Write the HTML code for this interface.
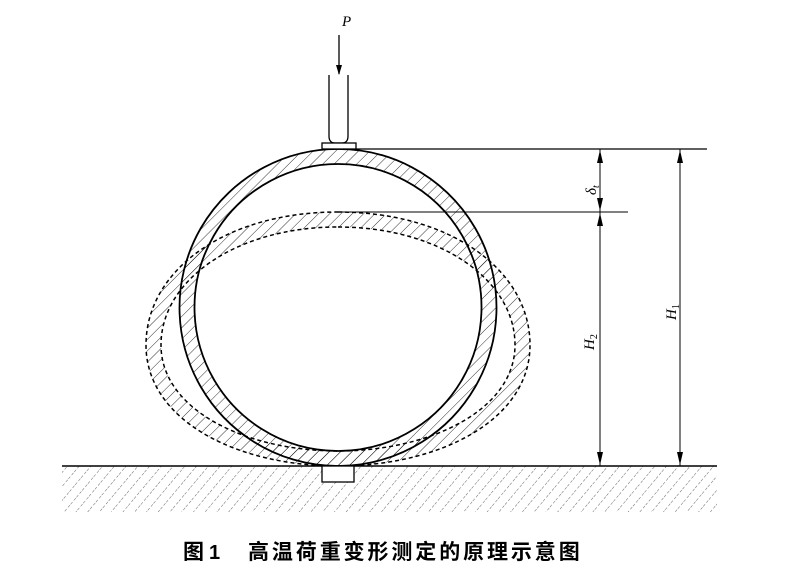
<!DOCTYPE html>
<html><head><meta charset="utf-8"><style>
html,body{margin:0;padding:0;background:#fff;width:799px;height:585px;overflow:hidden}
svg{display:block}
</style></head><body>
<svg width="799" height="585" viewBox="0 0 799 585" xmlns="http://www.w3.org/2000/svg">
<defs>
<pattern id="h" width="8" height="8" patternUnits="userSpaceOnUse" patternTransform="rotate(45)">
<line x1="0" y1="0" x2="0" y2="8" stroke="#000" stroke-width="0.8"/>
</pattern>
<pattern id="hg" width="9" height="9" patternUnits="userSpaceOnUse" patternTransform="rotate(40)">
<line x1="0" y1="0" x2="0" y2="9" stroke="#000" stroke-width="0.6" stroke-dasharray="3 2"/>
</pattern>
<marker id="a" markerWidth="10" markerHeight="10" refX="9" refY="3" orient="auto" markerUnits="userSpaceOnUse">
<path d="M0,0 L10,3 L0,6 z" fill="#000"/>
</marker>
</defs>
<rect x="62" y="466" width="655" height="46" fill="url(#hg)"/>
<line x1="62" y1="466" x2="717" y2="466" stroke="#000" stroke-width="1.5"/>
<path d="M338,212 C450,212 530,270 530,345 C530,420 440,466 338,466 C236,466 146,420 146,345 C146,270 226,212 338,212 Z M338,227 C440,227 515,280 515,345 C515,410 430,451 338,451 C246,451 161,410 161,345 C161,280 236,227 338,227 Z" fill="url(#h)" fill-rule="evenodd" stroke="#000" stroke-width="1.5" stroke-dasharray="4 3"/>
<path d="M338,149 a158.5,158.5 0 1,0 0.01,0 Z M338,164 a143.5,143.5 0 1,0 0.01,0 Z" fill="url(#h)" fill-rule="evenodd" stroke="#000" stroke-width="1.8"/>
<line x1="339" y1="35" x2="339" y2="74" stroke="#000" stroke-width="1.3" marker-end="url(#a)"/>
<path d="M329,75 V136 Q329,143 335,143 H342 Q348,143 348,136 V75" fill="none" stroke="#000" stroke-width="1.3"/>
<rect x="322" y="143" width="34" height="6" fill="#fff" stroke="#000" stroke-width="1.3"/>
<rect x="322" y="466" width="32" height="16" fill="#fff" stroke="#000" stroke-width="1.3"/>
<text x="342" y="26" font-family="Liberation Serif,serif" font-style="italic" font-size="15">P</text>
<line x1="356" y1="149" x2="707" y2="149" stroke="#000" stroke-width="1.3"/>
<line x1="338" y1="212" x2="628" y2="212" stroke="#000" stroke-width="1.1"/>
<line x1="600" y1="149" x2="600" y2="466" stroke="#000" stroke-width="1"/>
<line x1="680" y1="149" x2="680" y2="466" stroke="#000" stroke-width="1"/>
<path d="M600,150 l-3,13 h6 z M600,211 l-3,-13 h6 z M600,213 l-3,13 h6 z M600,465 l-3,-13 h6 z M680,150 l-3,13 h6 z M680,465 l-3,-13 h6 z" fill="#000"/>
<text transform="translate(596,195) rotate(-90)" font-family="Liberation Serif,serif" font-style="italic" font-size="15">δ<tspan font-size="10" dy="3">t</tspan></text>
<text transform="translate(594,350) rotate(-90)" font-family="Liberation Serif,serif" font-style="italic" font-size="15">H<tspan font-size="10" dy="3" font-style="normal">2</tspan></text>
<text transform="translate(676,320) rotate(-90)" font-family="Liberation Serif,serif" font-style="italic" font-size="15">H<tspan font-size="10" dy="3" font-style="normal">1</tspan></text>
<text x="183" y="559" font-family="Liberation Sans,'Noto Sans CJK SC',sans-serif" font-size="21" font-weight="bold">图</text>
<text x="209" y="559" font-family="Liberation Sans,'Noto Sans CJK SC',sans-serif" font-size="20" font-weight="bold">1</text>
<text x="248" y="559" font-family="Liberation Sans,'Noto Sans CJK SC',sans-serif" font-size="21" font-weight="bold" letter-spacing="2.9">高温荷重变形测定的原理示意图</text>
</svg>
</body></html>
